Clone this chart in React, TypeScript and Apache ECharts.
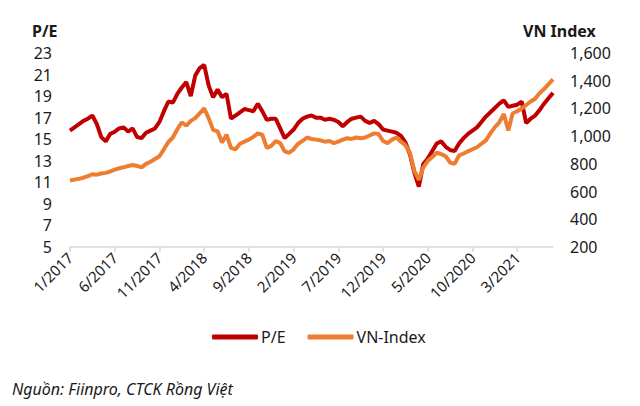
import React, { useEffect, useRef } from "react";
import * as echarts from "echarts";

// Half-monthly observations, Jan 2017 .. early Jul 2021
const startYear = 2017;
const peValues = [
  15.8, 16.1, 16.4, 16.7, 16.9, 17.2, 16.4, 15.2, 14.8, 15.5,
  15.7, 16.0, 16.1, 15.7, 16.0, 15.2, 15.1, 15.6, 15.8, 16.0,
  16.6, 17.6, 18.5, 18.4, 19.2, 19.8, 20.3, 19.0, 20.9, 21.6,
  21.9, 20.0, 18.9, 19.6, 18.9, 19.2, 16.9, 17.2, 17.5, 17.8,
  17.7, 17.6, 18.3, 17.6, 16.8, 16.9, 16.9, 16.0, 15.1, 15.5,
  15.9, 16.5, 16.9, 17.1, 17.2, 17.0, 17.0, 16.8, 16.9, 16.8,
  16.6, 16.2, 16.6, 16.9, 17.0, 17.1, 16.7, 16.5, 16.7, 16.4,
  15.9, 15.8, 15.7, 15.6, 15.3, 14.7, 13.6, 11.9, 10.6, 12.7,
  13.2, 13.9, 14.6, 14.8, 14.3, 14.0, 13.9, 14.6, 15.1, 15.5,
  15.8, 16.1, 16.6, 17.1, 17.5, 17.9, 18.3, 18.6, 18.0, 18.1,
  18.2, 18.5, 16.5, 16.9, 17.2, 17.7, 18.3, 18.8, 19.3,
];
const vnValues = [
  680, 686, 692, 700, 712, 725, 722, 730, 735, 745,
  758, 768, 775, 785, 792, 785, 775, 800, 815, 835,
  855, 905, 958, 990, 1050, 1100, 1075, 1110, 1130, 1165,
  1200, 1130, 1045, 1035, 955, 1010, 915, 905, 945, 960,
  975, 995, 1020, 1010, 915, 930, 965, 950, 890, 880,
  905, 945, 965, 990, 980, 975, 970, 960, 965, 950,
  960, 975, 985, 980, 990, 985, 990, 1005, 1020, 1015,
  965, 950, 975, 990, 960, 935, 880, 750, 685, 775,
  820, 850, 880, 870, 855, 810, 800, 860, 875, 890,
  905, 920, 945, 970, 1020, 1065, 1100, 1160, 1040, 1165,
  1180, 1200, 1225, 1250, 1270, 1310, 1340, 1375, 1410,
];
const peTicks = [5, 7, 9, 11, 13, 15, 17, 19, 21, 23];
const vnTicks = [200, 400, 600, 800, 1000, 1200, 1400, 1600];

const categories: string[] = peValues.map((_, i) => {
  const month = Math.floor(i / 2);
  const y = startYear + Math.floor(month / 12);
  const m = (month % 12) + 1;
  return i % 2 === 0 ? `${m}/${y}` : `${m}/${y} 16`;
});

const FONT = "Noto Sans";
const RED = "#C00000";
const ORANGE = "#ED7D31";

export default function App() {
  const ref = useRef<HTMLDivElement>(null);
  useEffect(() => {
    document.body.style.margin = "0";
    const chart = echarts.init(ref.current!, null, { renderer: "svg" });
    const showIdx = (i: number) => i % 10 === 0;
    chart.setOption({
      animation: false,
      backgroundColor: "#ffffff",
      textStyle: { fontFamily: FONT },
      grid: { left: 70, right: 87, top: 53, bottom: 159, containLabel: false },
      legend: {
        left: 212,
        top: 329,
        padding: 0,
        itemGap: 22,
        itemWidth: 46,
        itemHeight: 5,
        icon: "roundRect",
        textStyle: { fontFamily: FONT, fontSize: 16, color: "#1a1a1a", padding: [0, 0, 0, -2] },
        data: ["P/E", "VN-Index"],
      },
      graphic: [
        {
          type: "text",
          left: 32,
          top: 23,
          style: { text: "P/E", font: `bold 16px "${FONT}"`, fill: "#1a1a1a" },
        },
        {
          type: "text",
          left: 523,
          top: 23,
          style: { text: "VN Index", font: `bold 16px "${FONT}"`, fill: "#1a1a1a" },
        },
        {
          type: "text",
          left: 12,
          top: 381,
          style: {
            text: "Nguồn: Fiinpro, CTCK Rồng Việt",
            font: `italic 16px "${FONT}"`,
            fill: "#1a1a1a",
          },
        },
      ],
      xAxis: {
        type: "category",
        data: categories,
        boundaryGap: false,
        axisLine: { lineStyle: { color: "#d9d9d9", width: 1.5 } },
        axisTick: {
          show: true,
          length: 5,
          interval: (i: number) => showIdx(i),
          lineStyle: { color: "#d9d9d9", width: 1.5 },
        },
        axisLabel: {
          interval: (i: number) => showIdx(i),
          rotate: 45,
          margin: 8,
          fontSize: 15,
          fontFamily: FONT,
          color: "#1a1a1a",
          formatter: (v: string) => v.split(" ")[0],
        },
        splitLine: { show: false },
      },
      yAxis: [
        {
          type: "value",
          min: peTicks[0],
          max: peTicks[peTicks.length - 1],
          interval: 1,
          axisLine: { show: false },
          axisTick: { show: false },
          splitLine: { show: false },
          axisLabel: {
            margin: 18,
            fontSize: 16,
            fontFamily: FONT,
            color: "#1a1a1a",
            formatter: (v: number) => (peTicks.includes(v) ? String(v) : ""),
          },
        },
        {
          type: "value",
          min: vnTicks[0],
          max: vnTicks[vnTicks.length - 1],
          interval: 200,
          position: "right",
          axisLine: { show: false },
          axisTick: { show: false },
          splitLine: { show: false },
          axisLabel: {
            margin: 17,
            fontSize: 16,
            fontFamily: FONT,
            color: "#1a1a1a",
            formatter: (v: number) => v.toLocaleString("en-US"),
          },
        },
      ],
      series: [
        {
          name: "P/E",
          type: "line",
          yAxisIndex: 0,
          data: peValues,
          showSymbol: false,
          symbol: "none",
          color: RED,
          lineStyle: { color: RED, width: 4 },
        },
        {
          name: "VN-Index",
          type: "line",
          yAxisIndex: 1,
          data: vnValues,
          showSymbol: false,
          symbol: "none",
          color: ORANGE,
          lineStyle: { color: ORANGE, width: 4 },
        },
      ],
    });
    return () => chart.dispose();
  }, []);
  return <div ref={ref} style={{ width: 640, height: 406 }} />;
}
